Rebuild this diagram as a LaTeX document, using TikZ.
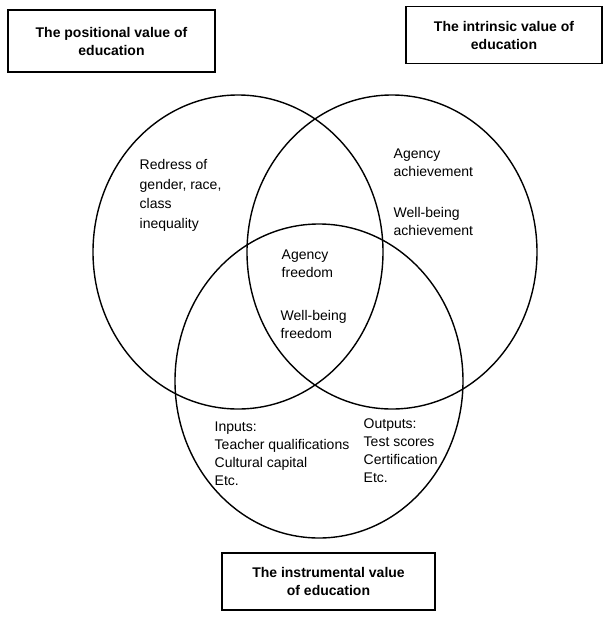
\documentclass[tikz,border=0pt]{standalone}
\usepackage{fontspec}
\setmainfont{Liberation Sans}
\usetikzlibrary{shapes.geometric,positioning}

\begin{document}
\begin{tikzpicture}
  [
  x=1pt, y=-1pt, line width=1.4pt, draw=black,
  valuecircle/.style={ellipse, inner sep=0pt, minimum width=290pt, minimum height=314pt, draw=black},
  valuebox/.style={rectangle, draw=black, align=center, font=\bfseries\fontsize{14}{18}\selectfont},
  entry/.style={anchor=north west, inner sep=0pt, align=left, font=\fontsize{14}{18}\selectfont}
  ]

  \useasboundingbox (0,0) rectangle (604,619);

  % the three values
  \node[valuecircle] (v1) at (238,252) {};
  \node[valuecircle] (v2) at (392,252) {};
  \node[valuecircle, minimum width=288pt] (v3) at (319,381) {};

  \node[valuebox, minimum width=207pt, minimum height=62pt] (b1) at (111.5,41) {The positional value of\\education};
  \node[valuebox, minimum width=196pt, minimum height=57pt] (b2) at (504,35) {The intrinsic value of\\education};
  \node[valuebox, minimum width=213pt, minimum height=57pt] (b3) at (328.5,581.5) {The instrumental value\\of education};

  \node[entry, font=\fontsize{14}{19.5}\selectfont] (t1) at (139,159) {Redress of\\gender, race,\\class\\inequality};
  \node[entry] (t2) at (393,148) {Agency\\achievement};
  \node[entry] (t3) at (393,207) {Well-being\\achievement};
  \node[entry] (t4) at (281,249) {Agency\\freedom};
  \node[entry] (t5) at (280,310) {Well-being\\freedom};
  \node[entry] (t6) at (214,421) {Inputs:\\Teacher qualifications\\Cultural capital\\Etc.};
  \node[entry] (t7) at (363,418) {Outputs:\\Test scores\\Certification\\Etc.};
\end{tikzpicture}
\end{document}
